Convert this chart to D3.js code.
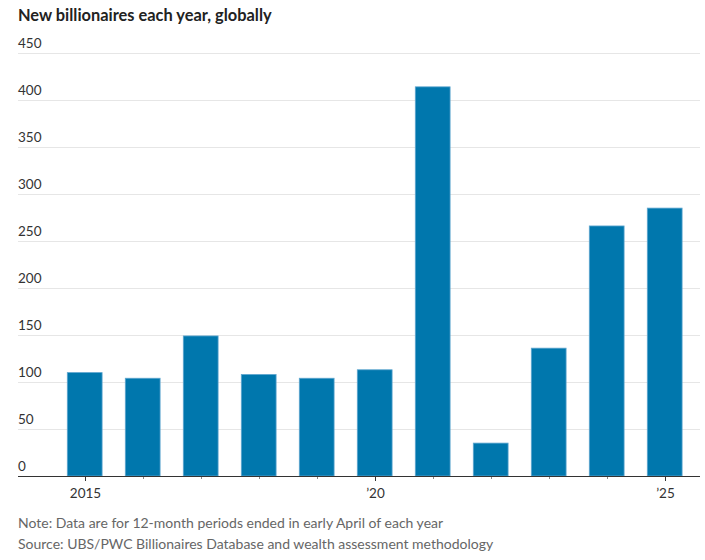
<!DOCTYPE html>
<html><head><meta charset="utf-8">
<script src="https://cdn.jsdelivr.net/npm/d3@7"></script>
<style>body{margin:0;background:#fff;}svg{display:block;}</style>
</head><body>
<script>
const years = [2015,2016,2017,2018,2019,2020,2021,2022,2023,2024,2025];
const newBillionaires = [110,104,149,108,104,113,414,35,136,266,285];
const yTicks = [0,50,100,150,200,250,300,350,400,450];
const xTickLabels = {2015:"2015",2020:"\u201920",2025:"\u201925"};
const title = "New billionaires each year, globally";
const note = "Note: Data are for 12-month periods ended in early April of each year";
const source = "Source: UBS/PWC Billionaires Database and wealth assessment methodology";

(function(){
const W=705,H=560;
const svg=d3.select("body").append("svg").attr("width",W).attr("height",H);
const font="Lato, 'Noto Sans', sans-serif";
const left=18,right=700,plotTop=53,base=476;

const x=d3.scaleBand().domain(years).range([55.7,693.7]).paddingInner(0.4).paddingOuter(0.2);
const y=d3.scaleLinear().domain([0,450]).range([base,plotTop]);

svg.append("text").attr("x",18).attr("y",21).text(title)
  .attr("font-family",font).attr("font-weight",700).attr("font-size",16.4).attr("fill","#222");

const g=svg.append("g");
yTicks.forEach(t=>{
  if(t>0) g.append("line").attr("x1",left).attr("x2",right).attr("y1",Math.round(y(t))+0.5).attr("y2",Math.round(y(t))+0.5)
    .attr("stroke","#e6e6e6").attr("stroke-width",1);
  g.append("text").attr("x",left).attr("y",y(t)-5).text(t)
    .attr("font-family",font).attr("font-size",13.5).attr("fill","#333");
});

svg.selectAll("rect.bar").data(years).enter().append("rect").attr("class","bar")
  .attr("x",d=>x(d)).attr("width",x.bandwidth())
  .attr("y",(d,i)=>y(newBillionaires[i])).attr("height",(d,i)=>base-y(newBillionaires[i]))
  .attr("fill","#0077ad").attr("stroke","#5ea6cf").attr("stroke-width",0.8);

svg.append("line").attr("x1",left).attr("x2",right).attr("y1",base+0.5).attr("y2",base+0.5)
  .attr("stroke","#333").attr("stroke-width",1.2);

const xa=svg.append("g");
years.forEach(yr=>{
  const cx=Math.round(x(yr)+x.bandwidth()/2)+0.5;
  const major=xTickLabels[yr]!==undefined;
  xa.append("line").attr("x1",cx).attr("x2",cx).attr("y1",base+1).attr("y2",base+(major?5:3))
    .attr("stroke",major?"#333":"#888").attr("stroke-width",1);
  if(major) xa.append("text").attr("x",cx).attr("y",498).attr("text-anchor","middle").text(xTickLabels[yr])
    .attr("font-family",font).attr("font-size",13.5).attr("fill","#333");
});

svg.append("text").attr("x",18).attr("y",528).text(note)
  .attr("font-family",font).attr("font-size",14).attr("fill","#666");
svg.append("text").attr("x",18).attr("y",549).text(source)
  .attr("font-family",font).attr("font-size",14).attr("fill","#666");
})();
</script>
</body></html>
